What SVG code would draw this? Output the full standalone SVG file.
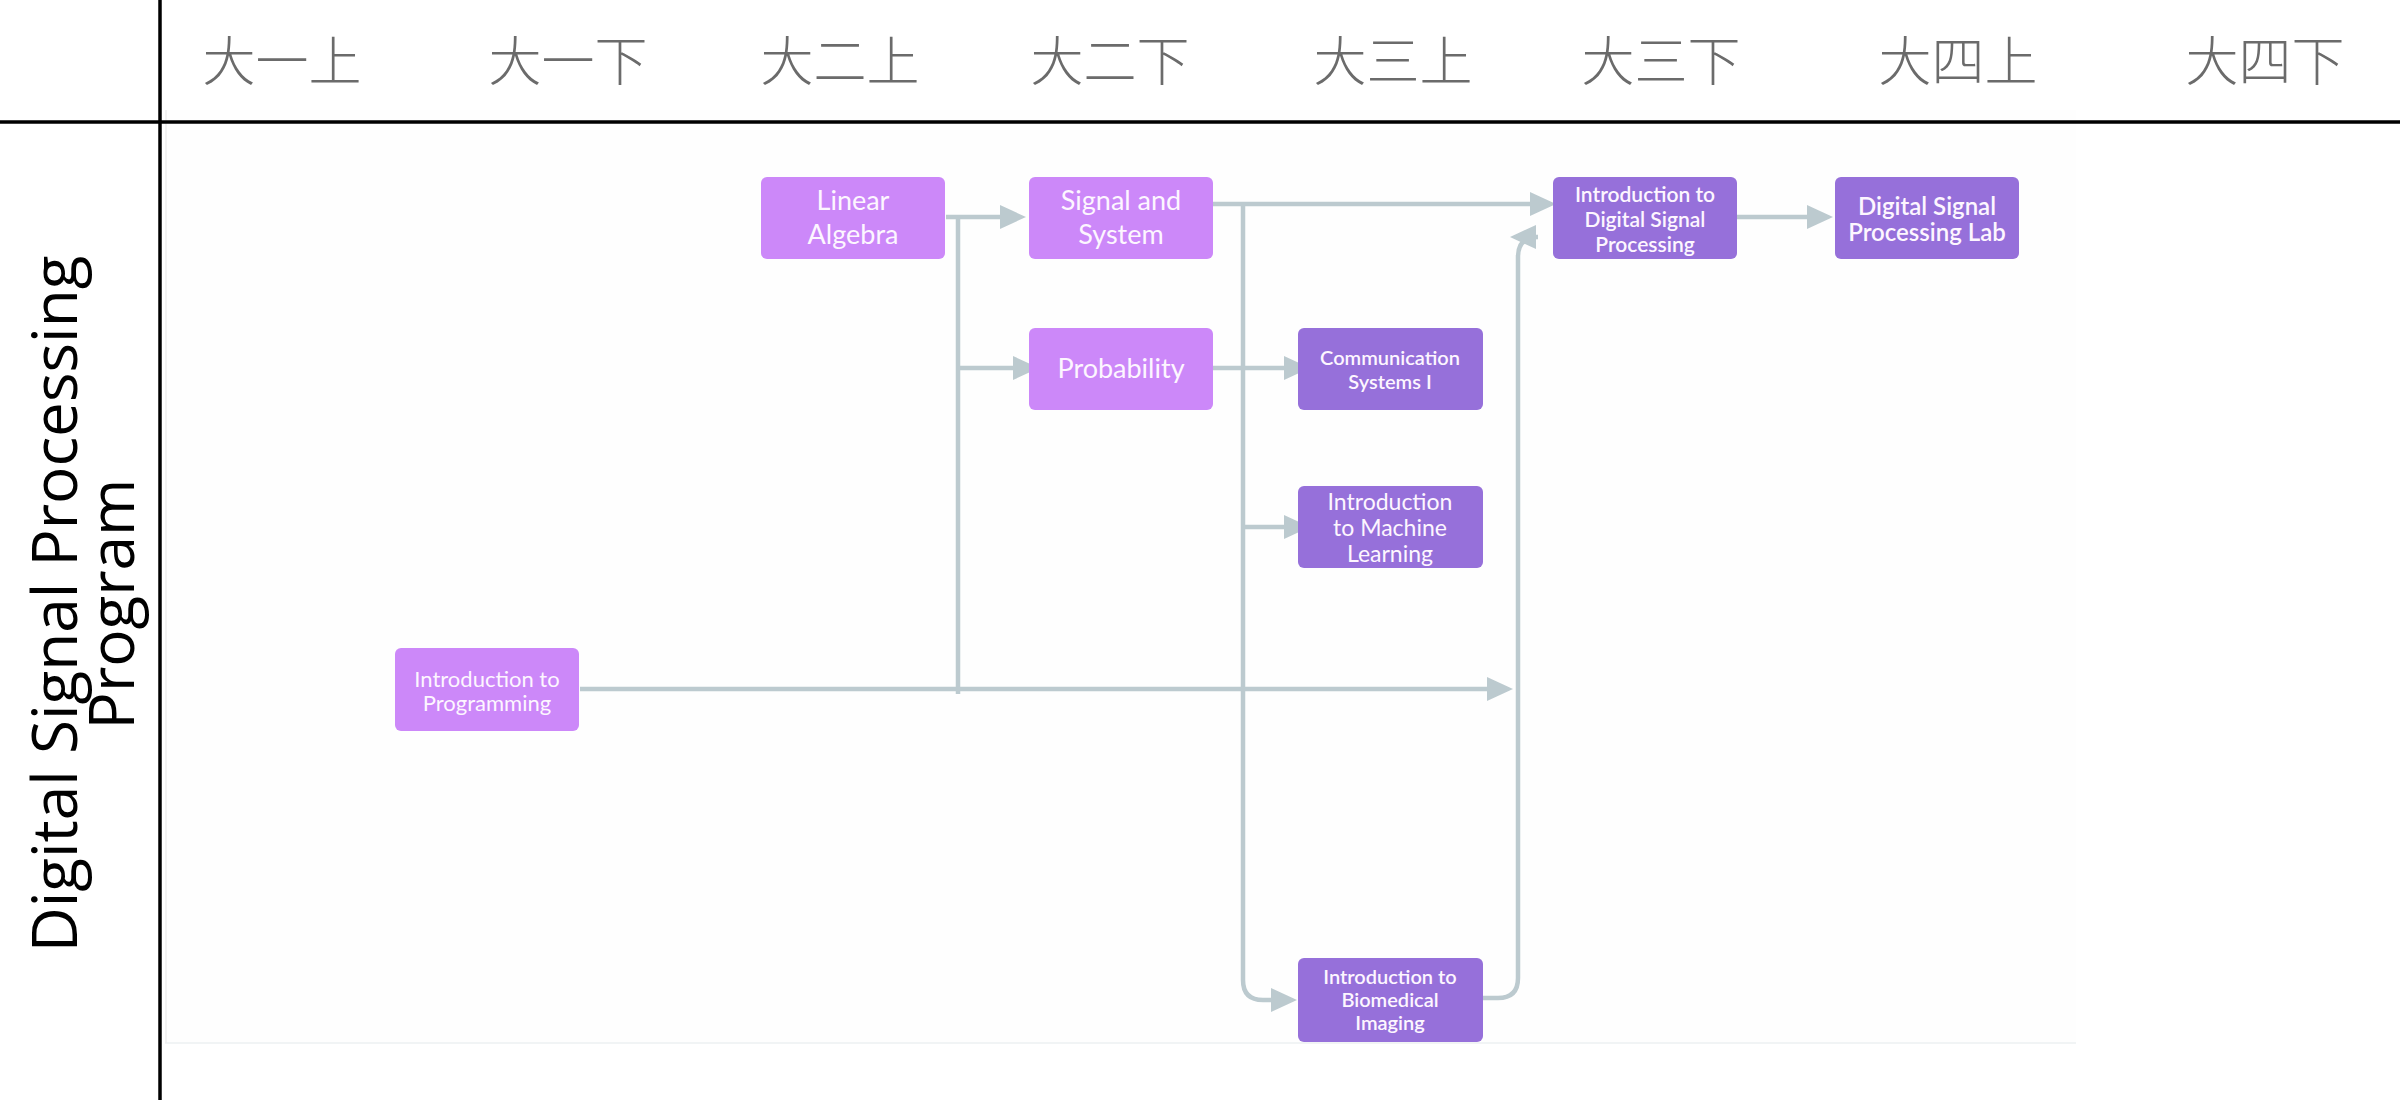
<svg xmlns="http://www.w3.org/2000/svg" width="2400" height="1100" viewBox="0 0 2400 1100">
  <defs>
    <style>
      .hdr { font-family: "Noto Sans CJK SC", "Noto Sans CJK TC", sans-serif; font-size: 53px; font-weight: 300; fill: #6b6b6b; text-anchor: middle; }
      .side { font-family: "Open Sans", "Noto Sans", sans-serif; font-size: 62px; fill: #000; text-anchor: middle; }
      .grid { stroke: #000; stroke-width: 3.5; fill: none; }
      .light { fill: #cc88f9; }
      .dark { fill: #9670da; }
      .lbl { font-family: Lato, "Open Sans", sans-serif; fill: #fdf6ff; text-anchor: middle; }
      .conn { stroke: #bccacf; stroke-width: 4.5; fill: none; }
    </style>
    <marker id="arr" markerUnits="userSpaceOnUse" markerWidth="26" markerHeight="24" refX="0" refY="12" orient="auto">
      <path d="M0,0 L26,12 L0,24 z" fill="#bccacf"/>
    </marker>
  </defs>

  <rect x="0" y="0" width="2400" height="1100" fill="#ffffff"/>
  <rect x="165" y="110" width="1911" height="933" fill="#fefefe"/>
  <line x1="165" y1="1043" x2="2076" y2="1043" stroke="#edf1f2" stroke-width="1.5"/>
  <line x1="166" y1="110" x2="166" y2="1043" stroke="#eeeeee" stroke-width="1.5"/>

  <g id="grid">
    <line class="grid" x1="160" y1="0" x2="160" y2="1100"/>
    <line class="grid" x1="0" y1="122" x2="2400" y2="122"/>
  </g>

  <g id="headers">
    <text class="hdr" x="282" y="81">大一上</text>
    <text class="hdr" x="568" y="81">大一下</text>
    <text class="hdr" x="840" y="81">大二上</text>
    <text class="hdr" x="1110" y="81">大二下</text>
    <text class="hdr" x="1393" y="81">大三上</text>
    <text class="hdr" x="1661" y="81">大三下</text>
    <text class="hdr" x="1958" y="81">大四上</text>
    <text class="hdr" x="2265" y="81">大四下</text>
  </g>

  <g id="row-label">
    <text class="side" transform="translate(77,604) rotate(-90)">Digital Signal Processing</text>
    <text class="side" transform="translate(134,604) rotate(-90)">Program</text>
  </g>

  <g id="connectors">
    <path class="conn" d="M946,217 H1000" marker-end="url(#arr)"/>
    <path class="conn" d="M958,217 V694"/>
    <path class="conn" d="M958,368 H1013" marker-end="url(#arr)"/>
    <path class="conn" d="M580,689 H1487" marker-end="url(#arr)"/>
    <path class="conn" d="M1213,204 H1530" marker-end="url(#arr)"/>
    <path class="conn" d="M1243,204 V980 Q1243,1000 1263,1000 H1271" marker-end="url(#arr)"/>
    <path class="conn" d="M1243,527 H1284" marker-end="url(#arr)"/>
    <path class="conn" d="M1213,368 H1284" marker-end="url(#arr)"/>
    <path class="conn" d="M1483,998 H1498 Q1518,998 1518,978 V257 Q1518,237 1538,237 H1536" marker-end="url(#arr)"/>
    <path class="conn" d="M1737,217 H1807" marker-end="url(#arr)"/>
  </g>

  <g id="linear-algebra">
    <rect class="light" x="761" y="177" width="184" height="82" rx="6"/>
    <text class="lbl" font-size="27"><tspan x="853" y="210">Linear</tspan><tspan x="853" y="244">Algebra</tspan></text>
  </g>
  <g id="signal-and-system">
    <rect class="light" x="1029" y="177" width="184" height="82" rx="6"/>
    <text class="lbl" font-size="27"><tspan x="1121" y="210">Signal and</tspan><tspan x="1121" y="244">System</tspan></text>
  </g>
  <g id="probability">
    <rect class="light" x="1029" y="328" width="184" height="82" rx="6"/>
    <text class="lbl" font-size="27" x="1121" y="378">Probability</text>
  </g>
  <g id="intro-programming">
    <rect class="light" x="395" y="648" width="184" height="83" rx="6"/>
    <text class="lbl" font-size="22"><tspan x="487" y="687">Introduction to</tspan><tspan x="487" y="711">Programming</tspan></text>
  </g>
  <g id="communication-systems">
    <rect class="dark" x="1298" y="328" width="185" height="82" rx="6"/>
    <text class="lbl" font-size="20" font-weight="600"><tspan x="1390" y="365">Communication</tspan><tspan x="1390" y="389">Systems I</tspan></text>
  </g>
  <g id="machine-learning">
    <rect class="dark" x="1298" y="486" width="185" height="82" rx="6"/>
    <text class="lbl" font-size="23"><tspan x="1390" y="510">Introduction</tspan><tspan x="1390" y="536">to Machine</tspan><tspan x="1390" y="562">Learning</tspan></text>
  </g>
  <g id="biomedical-imaging">
    <rect class="dark" x="1298" y="958" width="185" height="84" rx="6"/>
    <text class="lbl" font-size="20" font-weight="600"><tspan x="1390" y="984">Introduction to</tspan><tspan x="1390" y="1007">Biomedical</tspan><tspan x="1390" y="1030">Imaging</tspan></text>
  </g>
  <g id="intro-dsp">
    <rect class="dark" x="1553" y="177" width="184" height="82" rx="6"/>
    <text class="lbl" font-size="21" font-weight="600"><tspan x="1645" y="202">Introduction to</tspan><tspan x="1645" y="227">Digital Signal</tspan><tspan x="1645" y="252">Processing</tspan></text>
  </g>
  <g id="dsp-lab">
    <rect class="dark" x="1835" y="177" width="184" height="82" rx="6"/>
    <text class="lbl" font-size="24" font-weight="600"><tspan x="1927" y="215">Digital Signal</tspan><tspan x="1927" y="241">Processing Lab</tspan></text>
  </g>
</svg>
